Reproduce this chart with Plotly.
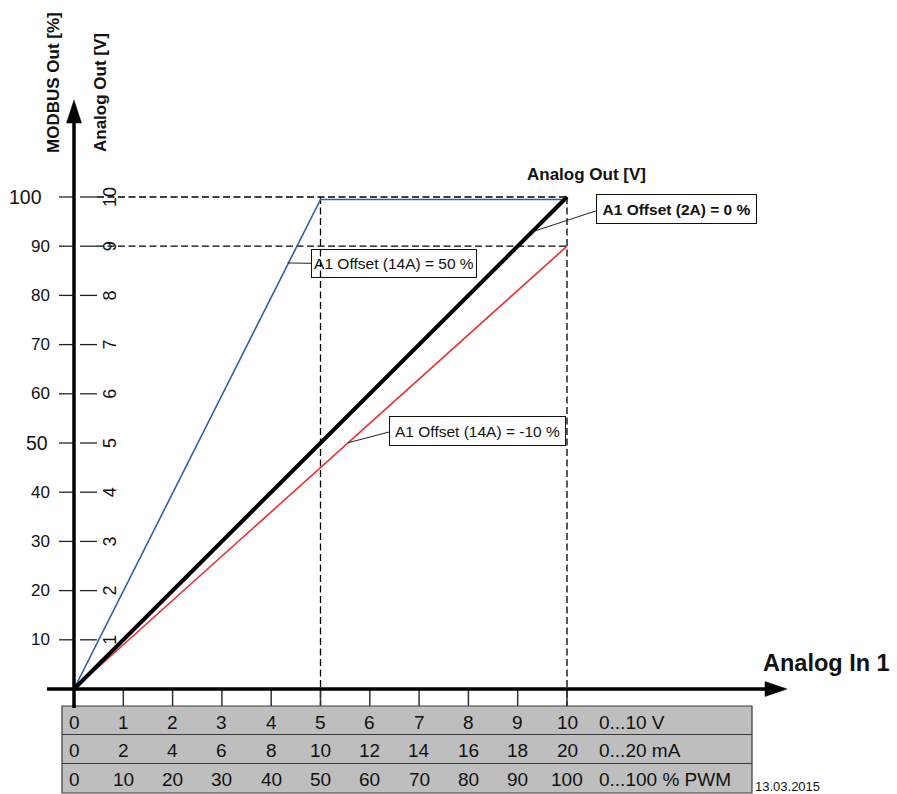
import plotly.graph_objects as go

# ---------------- data ----------------
x_ticks = [0, 1, 2, 3, 4, 5, 6, 7, 8, 9, 10]
volt_in_labels = ["0", "1", "2", "3", "4", "5", "6", "7", "8", "9", "10"]
ma_labels = ["0", "2", "4", "6", "8", "10", "12", "14", "16", "18", "20"]
pwm_labels = ["0", "10", "20", "30", "40", "50", "60", "70", "80", "90", "100"]
unit_labels = ["0...10 V", "0...20 mA", "0...100 % PWM"]

pct_ticks = [10, 20, 30, 40, 50, 60, 70, 80, 90, 100]
pct_labels = ["10", "20", "30", "40", "50", "60", "70", "80", "90", "100"]
volt_out_labels = ["1", "2", "3", "4", "5", "6", "7", "8", "9", "10"]

black_x = [0, 10]
black_y = [0, 100]
blue_x = [0, 5, 10]
blue_y = [0, 99.5, 99.5]
red_x = [0, 10]
red_y = [0, 90]

ref_x = [5, 10]       # dashed verticals
ref_y = [90, 100]     # dashed horizontals

# ---------------- layout helpers ----------------
W, H = 897, 794
X0, SX = 74.0, 49.3     # pixel of x=0, pixels per x unit
Y0, SY = 689.0, 4.92    # pixel of y=0, pixels per y unit


def dx(px):
    return (px - X0) / SX


def dy(py):
    return (Y0 - py) / SY


FONT = "Liberation Sans, Arial, sans-serif"
INK = "#111111"

fig = go.Figure()

fig.add_trace(go.Scatter(x=red_x, y=red_y, mode="lines",
                         line=dict(color="#E8302E", width=1.6), hoverinfo="skip"))
fig.add_trace(go.Scatter(x=blue_x, y=blue_y, mode="lines",
                         line=dict(color="#2F5DAA", width=1.6), hoverinfo="skip"))
fig.add_trace(go.Scatter(x=black_x, y=black_y, mode="lines",
                         line=dict(color="#000000", width=4), hoverinfo="skip"))

shapes = []
annotations = []

DASH = dict(color="#000", width=1.3, dash="7px,3.5px")
# dashed reference lines
for xv in ref_x:
    shapes.append(dict(type="line", xref="x", yref="y", x0=xv, x1=xv,
                       y0=max(ref_y), y1=dy(706), layer="below", line=DASH))
for yv in ref_y:
    shapes.append(dict(type="line", xref="x", yref="y", x0=dx(97), x1=max(ref_x),
                       y0=yv, y1=yv, layer="below", line=DASH))

# table
tbl_x0, tbl_x1 = dx(62), dx(752)
row_edges = [dy(706), dy(734.5), dy(763.5), dy(793)]
shapes.append(dict(type="rect", xref="x", yref="y", x0=tbl_x0, x1=tbl_x1,
                   y0=row_edges[3], y1=row_edges[0], fillcolor="#BEBEBF",
                   line=dict(color="#3a3a3a", width=1.2), layer="below"))
for ye in row_edges[1:3]:
    shapes.append(dict(type="line", xref="x", yref="y", x0=tbl_x0, x1=tbl_x1,
                       y0=ye, y1=ye, line=dict(color="#3a3a3a", width=1.2)))

# x-axis tick marks
for xv in x_ticks[1:]:
    shapes.append(dict(type="line", xref="x", yref="y", x0=xv, x1=xv,
                       y0=0, y1=dy(706), line=dict(color="#333", width=1.5)))

# y-axis ticks (left: %, right: V)
for yv in pct_ticks:
    shapes.append(dict(type="line", xref="x", yref="y", x0=dx(59), x1=0,
                       y0=yv, y1=yv, line=dict(color="#222", width=1.3)))
    shapes.append(dict(type="line", xref="x", yref="y", x0=dx(80), x1=dx(97),
                       y0=yv, y1=yv, line=dict(color="#222", width=1.3)))

# axes with arrowheads
shapes.append(dict(type="line", xref="x", yref="y", x0=0, x1=0, y0=dy(708), y1=dy(122),
                   line=dict(color="#000", width=3.5)))
shapes.append(dict(type="line", xref="x", yref="y", x0=dx(47), x1=dx(766), y0=0, y1=0,
                   line=dict(color="#000", width=3.5)))
hw = 7.5 / SX
shapes.append(dict(type="path", xref="x", yref="y",
                   path=f"M {-hw} {dy(123)} L {hw} {dy(123)} L 0 {dy(100)} Z",
                   fillcolor="#000", line=dict(color="#000", width=0.5)))
hh = 7.5 / SY
shapes.append(dict(type="path", xref="x", yref="y",
                   path=f"M {dx(765)} {-hh} L {dx(765)} {hh} L {dx(787)} 0 Z",
                   fillcolor="#000", line=dict(color="#000", width=0.5)))

# leader lines
leaders = [((4.33, 86.6), (dx(311), dy(263.3))),
           ((9.29, 92.9), (dx(596.5), dy(210.7))),
           ((5.56, 50.05), (dx(389), dy(432)))]
for (ax_, ay_), (bx_, by_) in leaders:
    shapes.append(dict(type="line", xref="x", yref="y", x0=ax_, y0=ay_, x1=bx_, y1=by_,
                       line=dict(color="#222", width=1)))

# left tick labels (%)
for yv, lab in zip(pct_ticks, pct_labels):
    if lab == "100":
        size, xr = 19.5, 44
    elif lab == "50":
        size, xr = 19.5, 50
    else:
        size, xr = 17, 52
    annotations.append(dict(x=dx(xr), y=yv, text=lab, showarrow=False,
                            xanchor="right", yanchor="middle",
                            font=dict(family=FONT, size=size, color=INK)))
# right tick labels (V, rotated)
for yv, lab in zip(pct_ticks, volt_out_labels):
    annotations.append(dict(x=dx(110), y=yv, text=lab, showarrow=False, textangle=-90,
                            xanchor="center", yanchor="middle",
                            font=dict(family=FONT, size=18, color=INK)))

# table labels
row_centers = [dy(722), dy(750.5), dy(779)]
for rc, labels, unit in zip(row_centers, [volt_in_labels, ma_labels, pwm_labels], unit_labels):
    for xv, lab in zip(x_ticks, labels):
        annotations.append(dict(x=xv, y=rc, text=lab, showarrow=False,
                                xanchor="center", yanchor="middle",
                                font=dict(family=FONT, size=19, color=INK)))
    annotations.append(dict(x=dx(597), y=rc, text=unit, showarrow=False,
                            xanchor="left", yanchor="middle",
                            font=dict(family=FONT, size=19, color=INK)))

# boxes
boxes = [
    ("A1 Offset (14A) = 50 %", dx(394), dy(263.7), 166, 29),
    ("<b>A1 Offset (2A) = 0 %</b>", dx(676.5), dy(209.2), 161, 30),
    ("A1 Offset (14A) = -10 %", dx(477.5), dy(431), 177, 30),
]
for txt, bx, by, bw, bh in boxes:
    annotations.append(dict(x=bx, y=by, text=txt, showarrow=False,
                            xanchor="center", yanchor="middle", align="center",
                            width=bw - 4, height=bh - 4, borderpad=1, borderwidth=1,
                            bordercolor="#111", bgcolor="rgba(0,0,0,0)",
                            font=dict(family=FONT, size=15.5, color=INK)))

# titles
annotations.append(dict(x=dx(586.7), y=dy(174), text="<b>Analog Out [V]</b>", showarrow=False,
                        xanchor="center", yanchor="middle",
                        font=dict(family=FONT, size=17, color=INK)))
annotations.append(dict(x=dx(826), y=dy(663), text="<b>Analog In 1</b>", showarrow=False,
                        xanchor="center", yanchor="middle",
                        font=dict(family=FONT, size=23.5, color=INK)))
annotations.append(dict(x=dx(53), y=dy(83), text="<b>MODBUS Out [%]</b>", showarrow=False,
                        textangle=-90, xanchor="center", yanchor="middle",
                        font=dict(family=FONT, size=17, color=INK)))
annotations.append(dict(x=dx(100), y=dy(93), text="<b>Analog Out [V]</b>", showarrow=False,
                        textangle=-90, xanchor="center", yanchor="middle",
                        font=dict(family=FONT, size=17, color=INK)))
annotations.append(dict(x=dx(753), y=dy(786), text="13.03.2015", showarrow=False,
                        xanchor="left", yanchor="middle",
                        font=dict(family=FONT, size=13, color=INK)))

fig.update_layout(
    width=W, height=H,
    margin=dict(l=0, r=0, t=0, b=0, pad=0),
    paper_bgcolor="white", plot_bgcolor="white",
    showlegend=False,
    xaxis=dict(range=[dx(0), dx(W)], visible=False, fixedrange=True),
    yaxis=dict(range=[dy(H), dy(0)], visible=False, fixedrange=True),
    shapes=shapes,
    annotations=annotations,
)

fig.write_html("out.html", config={"displayModeBar": False},
               post_script="document.body.style.margin='0';document.body.style.overflow='hidden';")
